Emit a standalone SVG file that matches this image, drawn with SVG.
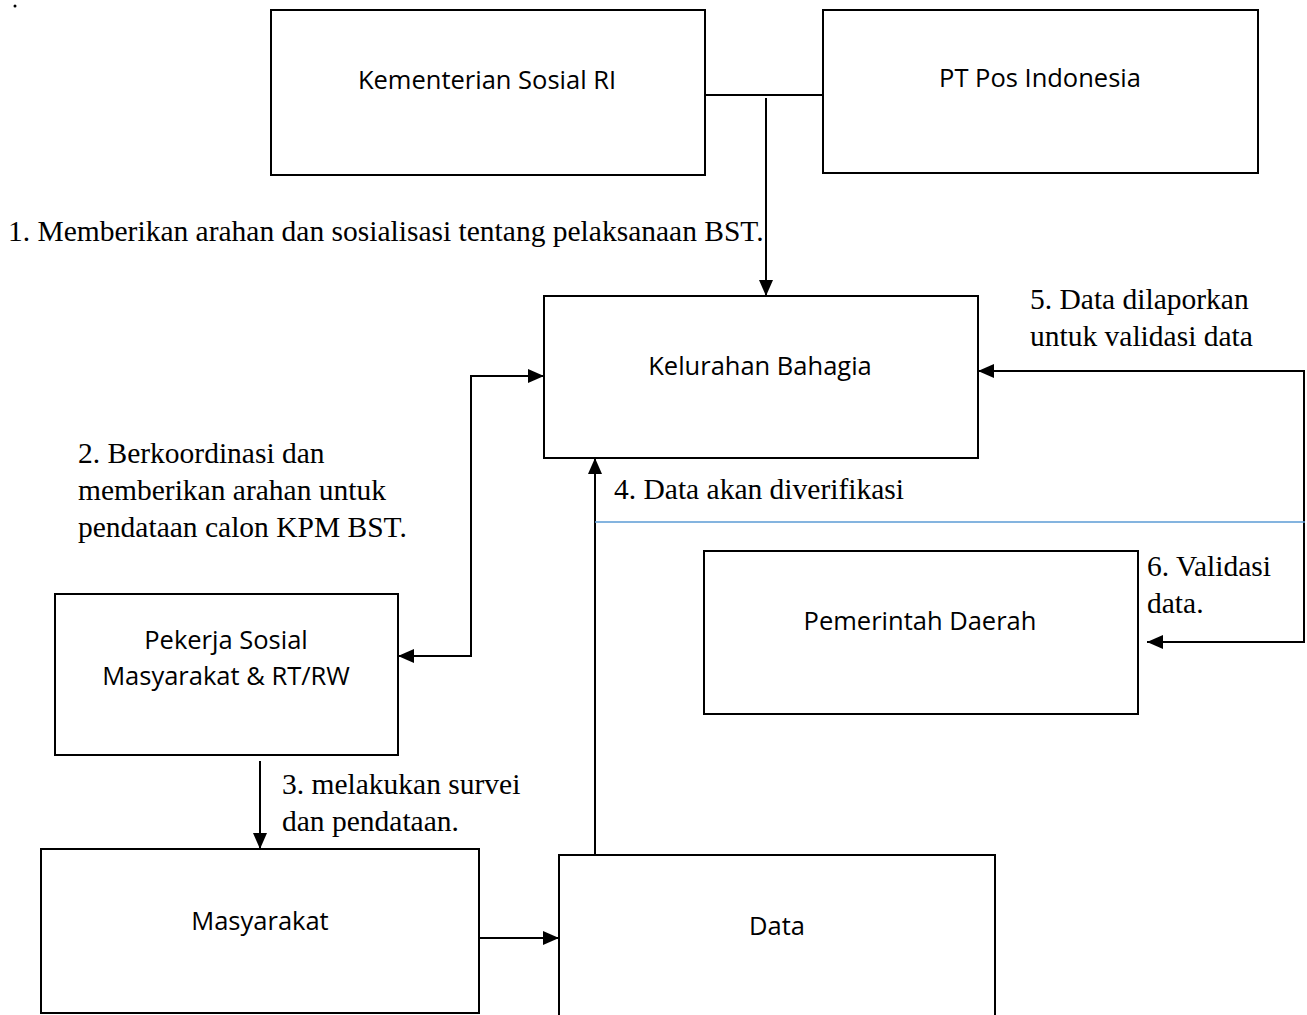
<svg xmlns="http://www.w3.org/2000/svg" width="1307" height="1015" viewBox="0 0 1307 1015">
<style>
.box{fill:#fff;stroke:#000;stroke-width:2}
.lbl{font-family:"Open Sans","Noto Sans",sans-serif;font-size:25.5px;fill:#000;text-anchor:middle}
.ser{font-family:"Liberation Serif","Times New Roman",serif;font-size:29.5px;fill:#000}
.ln{fill:none;stroke:#000;stroke-width:2}
</style>
<defs>
<marker id="ah2" markerWidth="16" markerHeight="14" refX="16" refY="7" orient="auto-start-reverse" markerUnits="userSpaceOnUse" viewBox="0 0 16 14"><path d="M0,0 L16,7 L0,14 z" fill="#000"/></marker>
</defs>
<rect width="1307" height="1015" fill="#fff"/>
<circle cx="15" cy="6" r="1.5" fill="#000"/>
<g id="n-kemensos"><rect class="box" x="271" y="10" width="434" height="165"/><text class="lbl" x="487" y="89">Kementerian Sosial RI</text></g>
<g id="n-ptpos"><rect class="box" x="823" y="10" width="435" height="163"/><text class="lbl" x="1040" y="87">PT Pos Indonesia</text></g>
<g id="n-kelurahan"><rect class="box" x="544" y="296" width="434" height="162"/><text class="lbl" x="760" y="375">Kelurahan Bahagia</text></g>
<g id="n-pekerja"><rect class="box" x="55" y="594" width="343" height="161"/><text class="lbl" x="226" y="649">Pekerja Sosial</text><text class="lbl" x="226" y="685">Masyarakat &amp; RT/RW</text></g>
<g id="n-pemda"><rect class="box" x="704" y="551" width="434" height="163"/><text class="lbl" x="920" y="630">Pemerintah Daerah</text></g>
<g id="n-masyarakat"><rect class="box" x="41" y="849" width="438" height="164"/><text class="lbl" x="260" y="930">Masyarakat</text></g>
<g id="n-data"><path class="ln" d="M559,1016 V855 H995 V1016"/><text class="lbl" x="777" y="935">Data</text></g>
<g id="connectors">
<line class="ln" x1="705" y1="95" x2="823" y2="95"/>
<line class="ln" x1="766" y1="98" x2="766" y2="296" marker-end="url(#ah2)"/>
<path class="ln" d="M398,656 H471 V376 H544" marker-start="url(#ah2)" marker-end="url(#ah2)"/>
<line class="ln" x1="260" y1="761" x2="260" y2="849" marker-end="url(#ah2)"/>
<line class="ln" x1="479" y1="938" x2="559" y2="938" marker-end="url(#ah2)"/>
<line class="ln" x1="595" y1="855" x2="595" y2="458" marker-end="url(#ah2)"/>
<path class="ln" d="M1147,642 H1304 V371 H978" marker-start="url(#ah2)" marker-end="url(#ah2)"/>
<line x1="595" y1="522" x2="1305" y2="522" stroke="#5b9bd5" stroke-width="1.5"/>
</g>
<g id="labels">
<text class="ser" x="8" y="241">1. Memberikan arahan dan sosialisasi tentang pelaksanaan BST.</text>
<text class="ser" x="1030" y="309">5. Data dilaporkan</text>
<text class="ser" x="1030" y="346">untuk validasi data</text>
<text class="ser" x="78" y="463">2. Berkoordinasi dan</text>
<text class="ser" x="78" y="500">memberikan arahan untuk</text>
<text class="ser" x="78" y="537">pendataan calon KPM BST.</text>
<text class="ser" x="614" y="499">4. Data akan diverifikasi</text>
<text class="ser" x="1147" y="576">6. Validasi</text>
<text class="ser" x="1147" y="613">data.</text>
<text class="ser" x="282" y="794">3. melakukan survei</text>
<text class="ser" x="282" y="831">dan pendataan.</text>
</g>
</svg>
